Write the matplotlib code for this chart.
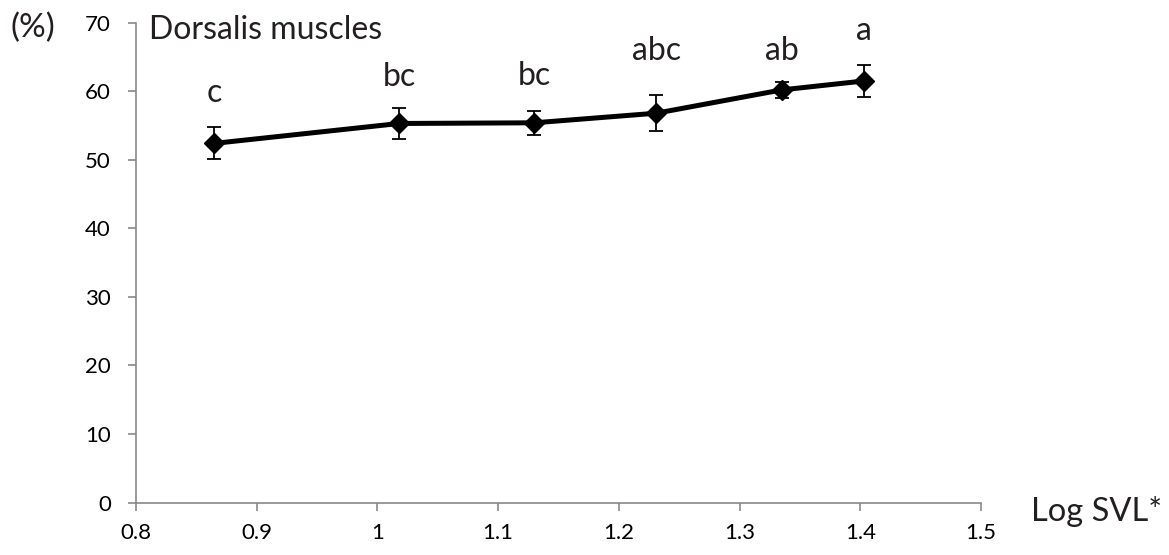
import matplotlib
matplotlib.use("Agg")
import matplotlib.pyplot as plt

# data
log_svl   = [0.865, 1.018, 1.130, 1.231, 1.335, 1.403]
muscle    = [52.4, 55.3, 55.4, 56.8, 60.2, 61.5]
muscle_se = [2.35, 2.25, 1.75, 2.6, 1.2, 2.3]
groups    = ["c", "bc", "bc", "abc", "ab", "a"]
group_y   = [58.4, 60.7, 60.9, 64.5, 64.5, 67.5]

xticks = [0.8, 0.9, 1.0, 1.1, 1.2, 1.3, 1.4, 1.5]
xlabels = ["0.8", "0.9", "1", "1.1", "1.2", "1.3", "1.4", "1.5"]
yticks = [0, 10, 20, 30, 40, 50, 60, 70]

plt.rcParams['font.family'] = ['Lato', 'DejaVu Sans']
grey = '#898989'

fig = plt.figure(figsize=(11.69, 5.55), dpi=100)
ax = fig.add_axes([0.1163, 0.0944, 0.7229, 0.8647])

ax.errorbar(log_svl, muscle, yerr=muscle_se, color='black', lw=3.6,
            marker='D', ms=10, ecolor='black', elinewidth=1.3,
            capsize=5, capthick=1.3, zorder=3)

for x, y, g in zip(log_svl, group_y, groups):
    ax.text(x, y, g, ha='center', va='baseline', fontsize=23, color='#231f20')

ax.text(0.811, 69.0, "Dorsalis muscles", ha='left', va='center',
        fontsize=23, color='#231f20')

ax.set_xlim(0.8, 1.5)
ax.set_ylim(0, 70)
ax.set_xticks(xticks)
ax.set_xticklabels(xlabels)
ax.set_yticks(yticks)

for s in ['top', 'right']:
    ax.spines[s].set_visible(False)
for s in ['left', 'bottom']:
    ax.spines[s].set_color(grey)
    ax.spines[s].set_linewidth(1.2)
ax.tick_params(axis='both', direction='out', length=6, width=1.2,
               color=grey, labelsize=16, labelcolor='black')
ax.tick_params(axis='x', pad=9)
ax.tick_params(axis='y', pad=12)

fig.text(33 / 1169, 1 - 28 / 555, "(%)", ha='center', va='center',
         fontsize=24, color='#231f20')
fig.text(1031 / 1169, 1 - 521 / 555, "Log SVL*", ha='left', va='baseline',
         fontsize=23.5, color='#231f20')

fig.savefig("out.png", dpi=100)
